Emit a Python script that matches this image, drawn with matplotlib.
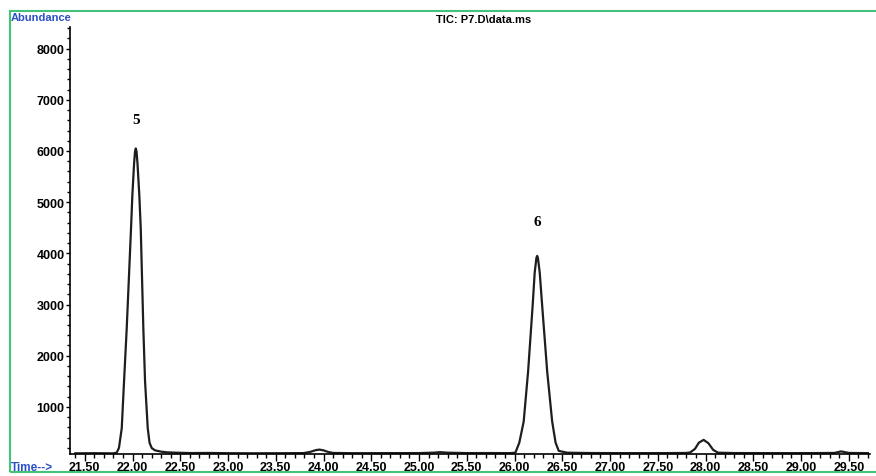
import matplotlib
matplotlib.use("Agg")
import matplotlib.pyplot as plt
from matplotlib.patches import Rectangle
from matplotlib.ticker import MultipleLocator, FixedLocator

# trace (min, abundance)
times = [21.40, 21.60, 21.80, 21.834, 21.858, 21.887, 21.911, 21.939, 21.984, 21.998,
         22.016, 22.026, 22.034, 22.042, 22.052, 22.071, 22.086, 22.113, 22.131, 22.159,
         22.178, 22.201, 22.236, 22.30, 22.358, 22.45, 22.60, 22.80, 23.00, 23.30,
         23.60, 23.79, 23.86, 23.92, 23.958, 24.00, 24.05, 24.10, 24.30, 24.60,
         25.00, 25.15, 25.22, 25.30, 25.50, 25.80, 25.95, 26.009, 26.05, 26.096,
         26.142, 26.190, 26.211, 26.229, 26.237, 26.245, 26.264, 26.289, 26.342, 26.394,
         26.43, 26.463, 26.55, 26.80, 27.20, 27.60, 27.80, 27.84, 27.89, 27.93,
         27.98, 28.03, 28.08, 28.13, 28.30, 28.70, 29.10, 29.35, 29.42, 29.50,
         29.70]
abundance = [92, 95, 92, 105, 200, 585, 1500, 2534, 4483, 5133,
             5750, 5990, 6050, 5990, 5750, 5133, 4483, 2534, 1500, 585,
             300, 195, 150, 125, 112, 105, 98, 100, 95, 93,
             95, 97, 120, 155, 165, 150, 118, 100, 95, 96,
             97, 105, 115, 105, 97, 98, 96, 105, 300, 715,
             1690, 2988, 3620, 3910, 3950, 3910, 3620, 2988, 1690, 715,
             300, 140, 105, 98, 96, 97, 100, 110, 180, 300,
             355, 290, 160, 105, 98, 96, 97, 100, 130, 100,
             96]

peak_labels = ["5", "6"]
peak_times = [22.034, 26.237]
peak_heights = [6050, 3950]
label_offsets = [21, 25]

x_ticks = [21.5 + 0.5 * i for i in range(17)]
y_ticks = [1000, 2000, 3000, 4000, 5000, 6000, 7000, 8000]

plt.rcParams['font.family'] = ['Liberation Sans', 'DejaVu Sans']

fig = plt.figure(figsize=(8.76, 4.77), dpi=100)
ax = fig.add_axes([0.0799, 0.046, 0.913, 0.895])

ax.plot(times, abundance, color="#1e1e1e", lw=1.6, solid_joinstyle="round")
ax.set_xlim(21.345, 29.72)
ax.set_ylim(78, 8420)

for s in ["top", "right"]:
  ax.spines[s].set_visible(False)
for s in ["left", "bottom"]:
  ax.spines[s].set_linewidth(1.2)

ax.xaxis.set_major_locator(FixedLocator(x_ticks))
ax.xaxis.set_minor_locator(MultipleLocator(0.1))
ax.set_xticklabels([f"{t:.2f}" for t in x_ticks])
ax.yaxis.set_major_locator(FixedLocator(y_ticks))
ax.yaxis.set_minor_locator(MultipleLocator(200))
ax.set_yticklabels([str(v) for v in y_ticks])

ax.tick_params(axis="x", which="major", direction="out", length=5, width=1, pad=0,
               labelsize=9)
ax.tick_params(axis="x", which="minor", direction="out", length=3, width=1)
ax.tick_params(axis="y", which="major", direction="out", length=3, width=1, pad=1,
               labelsize=9)
ax.tick_params(axis="y", which="minor", direction="out", length=2, width=1)
for lab in ax.get_xticklabels() + ax.get_yticklabels():
  lab.set_fontweight("bold")

for lab, t, h, off in zip(peak_labels, peak_times, peak_heights, label_offsets):
  ax.annotate(lab, (t, h), xytext=(0, off), textcoords="offset points",
              ha="center", va="center", fontsize=11, fontweight="bold",
              family="Liberation Serif")

fig.text(0.012, 0.962, "Abundance", color="#2b50c8", fontsize=8, fontweight="bold",
         ha="left", va="center")
fig.text(0.012, 0.018, "Time-->", color="#2b50c8", fontsize=8.5, fontweight="bold",
         ha="left", va="center")
fig.text(0.552, 0.958, "TIC: P7.D\\data.ms", color="black", fontsize=8,
         fontweight="bold", ha="center", va="center")

fig.add_artist(Rectangle((0.0114, 0.008), 1.05, 0.966, transform=fig.transFigure,
                         fill=False, edgecolor="#45c27a", lw=1.5, clip_on=False,
                         zorder=0))

fig.savefig("out.png", dpi=100)
